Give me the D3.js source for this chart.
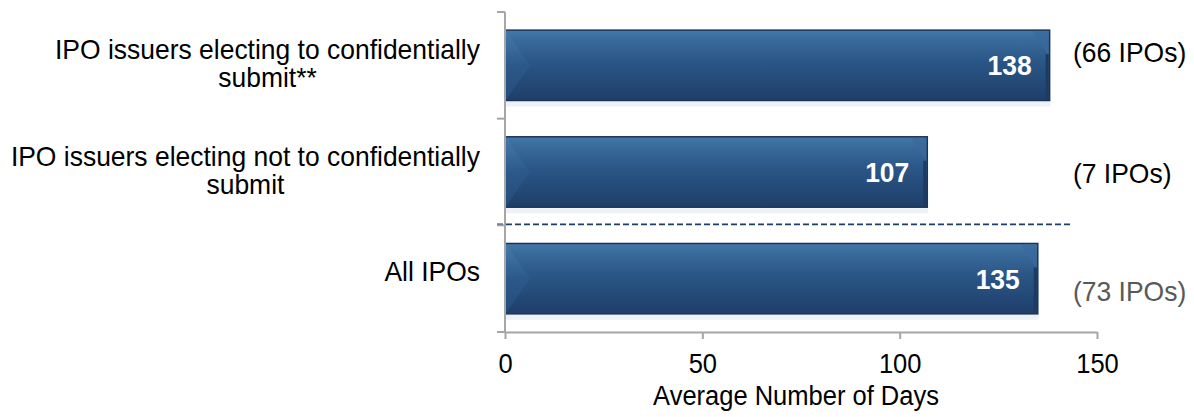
<!DOCTYPE html>
<html>
<head>
<meta charset="utf-8">
<script src="https://cdn.jsdelivr.net/npm/d3@7"></script>
<style>
  html, body { margin: 0; padding: 0; background: #fff; }
  svg { display: block; font-family: "Liberation Sans", Arial, sans-serif; }
</style>
</head>
<body>
<svg id="chart" width="1194" height="417"></svg>
<script>
// ---- data ----
const categories = [
  ["IPO issuers electing to confidentially", "submit**"],
  ["IPO issuers electing not to confidentially", "submit"],
  ["All IPOs"]
];
const categoryKeys = ["confidential", "notConfidential", "all"];
const avgDays = [138, 107, 135];
const ipoCounts = [66, 7, 73];
const xTicks = [0, 50, 100, 150];
const xAxisTitle = "Average Number of Days";

// ---- layout ----
const plot = { left: 505, right: 1097, top: 12, bottom: 332 };
const countDy = [-13, 1, 12];
const countColors = ["#000", "#000", "#595959"];
const FS = 28, SX = 0.945; // text is slightly condensed horizontally

const svg = d3.select("#chart");
const defs = svg.append("defs");

const grad = defs.append("linearGradient").attr("id", "barGrad")
  .attr("x1", 0).attr("y1", 0).attr("x2", 0).attr("y2", 1);
[["0%", "#4479aa"], ["12%", "#3a6c9d"], ["45%", "#2a5686"], ["100%", "#1f3e69"]]
  .forEach(([o, c]) => grad.append("stop").attr("offset", o).attr("stop-color", c));

const bevL = defs.append("linearGradient").attr("id", "bevL")
  .attr("x1", 0).attr("y1", 0).attr("x2", 0).attr("y2", 1);
[["0%", "#4a80b2"], ["50%", "#2d5c8e"], ["100%", "#285587"]]
  .forEach(([o, c]) => bevL.append("stop").attr("offset", o).attr("stop-color", c));

const x = d3.scaleLinear().domain([0, 150]).range([plot.left, plot.right]);
const y = d3.scaleBand().domain(categoryKeys).range([plot.top, plot.bottom])
  .paddingInner(0.34).paddingOuter(0.17);

const rows = categoryKeys.map((k, i) => ({ key: k, label: categories[i], value: avgDays[i], count: ipoCounts[i], i }));

// faint reflection under bars
svg.append("g").selectAll("rect").data(rows).join("rect")
  .attr("x", x(0) + 1)
  .attr("y", d => y(d.key) + y.bandwidth() + 1)
  .attr("width", d => x(d.value) - x(0))
  .attr("height", 5)
  .attr("fill", "#eef2f7");

// bars
const bars = svg.append("g");
bars.selectAll("rect.bar").data(rows).join("rect")
  .attr("class", "bar")
  .attr("x", x(0))
  .attr("y", d => y(d.key))
  .attr("width", d => x(d.value) - x(0))
  .attr("height", y.bandwidth())
  .attr("fill", "url(#barGrad)")
  .attr("stroke", "#1a3559")
  .attr("stroke-width", 1.5);

// left bevel chevron
bars.selectAll("path.bl").data(rows).join("path")
  .attr("class", "bl")
  .attr("d", d => {
    const x0 = x(0) + 1, y0 = y(d.key) + 1, h = y.bandwidth() - 2;
    return `M${x0},${y0} L${x0 + 24},${y0 + h / 2} L${x0},${y0 + h} Z`;
  })
  .attr("fill", "url(#bevL)")
  .attr("opacity", 0.6);

// right bevel
bars.selectAll("path.br").data(rows).join("path")
  .attr("class", "br")
  .attr("d", d => {
    const x1 = x(d.value) - 1, y0 = y(d.key) + 1;
    return `M${x1 - 16},${y0} L${x1},${y0} L${x1},${y0 + 24} Z`;
  })
  .attr("fill", "#3a6a9b")
  .attr("opacity", 0.7);
bars.selectAll("rect.re").data(rows).join("rect")
  .attr("class", "re")
  .attr("x", d => x(d.value) - 4)
  .attr("y", d => y(d.key) + 24)
  .attr("width", 3)
  .attr("height", y.bandwidth() - 25)
  .attr("fill", "#1c3a62");

// helper: text condensed horizontally around its anchor
function place(sel, px, py) {
  sel.attr("transform", `translate(${px},${py}) scale(${SX},1)`);
}

// value labels
svg.append("g").selectAll("text").data(rows).join("text")
  .each(function (d) { place(d3.select(this), x(d.value) - 18, y(d.key) + y.bandwidth() / 2); })
  .attr("dy", "0.36em")
  .attr("text-anchor", "end")
  .attr("fill", "#fff")
  .attr("font-weight", "bold")
  .attr("font-size", FS)
  .text(d => d.value);

// dashed separator
const sepY = y("all") - y.step() * y.paddingInner() / 2 - 1;
svg.append("line")
  .attr("x1", x(0) - 8).attr("x2", 1072)
  .attr("y1", sepY).attr("y2", sepY)
  .attr("stroke", "#1f3d68").attr("stroke-width", 1.6)
  .attr("stroke-dasharray", "6,3");

// axes
const axisColor = "#a6a6a6";
svg.append("line").attr("x1", x(0)).attr("x2", x(0))
  .attr("y1", plot.top).attr("y2", plot.bottom)
  .attr("stroke", axisColor).attr("stroke-width", 2);
const bounds = d3.range(categoryKeys.length + 1).map(i => plot.top + i * y.step());
svg.append("g").selectAll("line").data(bounds).join("line")
  .attr("x1", x(0) - 8).attr("x2", x(0))
  .attr("y1", d => d).attr("y2", d => d)
  .attr("stroke", axisColor).attr("stroke-width", 2);

const xAxis = svg.append("g").attr("transform", `translate(0,${plot.bottom})`)
  .call(d3.axisBottom(x).tickValues(xTicks).tickSize(7).tickPadding(15).tickSizeOuter(0));
xAxis.select(".domain").attr("stroke", axisColor).attr("stroke-width", 2);
xAxis.selectAll(".tick line").attr("stroke", axisColor).attr("stroke-width", 2);
xAxis.selectAll(".tick text")
  .attr("font-size", 27)
  .attr("font-family", "Liberation Sans, Arial, sans-serif")
  .attr("fill", "#000")
  .attr("transform", `scale(${SX},1)`);

const title = svg.append("text")
  .attr("text-anchor", "middle")
  .attr("font-size", 27)
  .attr("fill", "#000")
  .text(xAxisTitle);
place(title, 796, 405);

// category labels (centered block, right edge at 480)
const lineH = 28;
rows.forEach(d => {
  const lines = d.label;
  const cy = y(d.key) + y.bandwidth() / 2 + (lines.length === 1 ? -8 : -2);
  const t = svg.append("text")
    .attr("text-anchor", "middle")
    .attr("font-size", FS)
    .attr("fill", "#000");
  lines.forEach((ln, j) => {
    t.append("tspan").attr("x", 0)
      .attr("y", (j - (lines.length - 1) / 2) * lineH).attr("dy", "0.36em").text(ln);
  });
  const maxW = d3.max(t.selectAll("tspan").nodes().map(n => n.getComputedTextLength())) * SX;
  place(t, 480 - maxW / 2, cy);
});

// IPO counts
svg.append("g").selectAll("text").data(rows).join("text")
  .each(function (d) { place(d3.select(this), 1073, y(d.key) + y.bandwidth() / 2 + countDy[d.i]); })
  .attr("dy", "0.36em")
  .attr("font-size", FS)
  .attr("fill", d => countColors[d.i])
  .text(d => `(${d.count} IPOs)`);
</script>
</body>
</html>
